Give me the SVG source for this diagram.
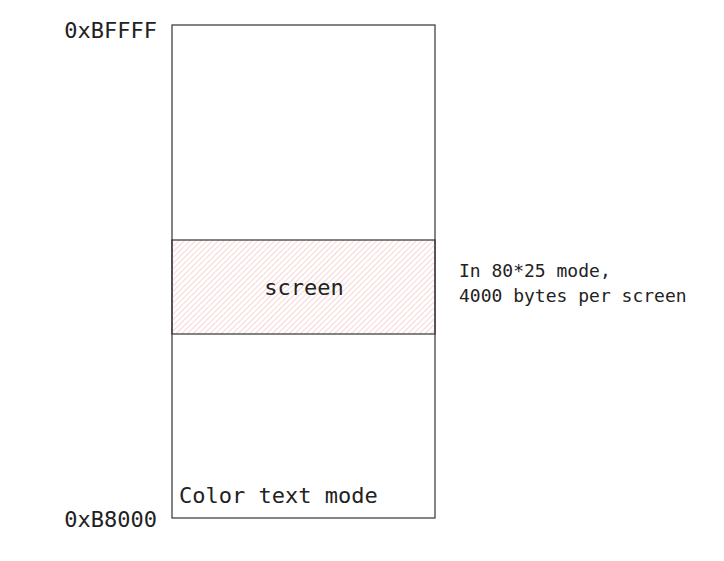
<svg xmlns="http://www.w3.org/2000/svg" width="724" height="561" viewBox="0 0 724 561">
  <defs>
    <pattern id="hatch" patternUnits="userSpaceOnUse" width="4" height="4" patternTransform="rotate(45)">
      <line x1="0" y1="0" x2="0" y2="4" stroke="#f4b8b8" stroke-width="1.2"/>
    </pattern>
  </defs>
  <style>
    .box { fill: #ffffff; stroke: #333333; stroke-width: 1.2; }
    .mono { font-family: "DejaVu Sans Mono", "Liberation Mono", monospace; fill: #222222; }
    .big { font-size: 22px; }
    .small { font-size: 18px; }
  </style>
  <rect width="724" height="561" fill="#ffffff"/>
  <g id="memory">
    <rect class="box" x="172" y="25" width="263" height="493"/>
  </g>
  <g id="screen">
    <rect x="172" y="240" width="263" height="94" fill="url(#hatch)" stroke="#333333" stroke-width="1.2"/>
    <text class="mono big" x="304" y="295" text-anchor="middle">screen</text>
  </g>
  <g id="labels">
    <text class="mono big" x="157" y="38" text-anchor="end">0xBFFFF</text>
    <text class="mono big" x="157" y="527" text-anchor="end">0xB8000</text>
    <text class="mono big" x="179" y="503">Color text mode</text>
    <text class="mono small" x="459" y="277">In 80*25 mode,</text>
    <text class="mono small" x="459" y="302">4000 bytes per screen</text>
  </g>
  <g id="connectors"/>
</svg>
